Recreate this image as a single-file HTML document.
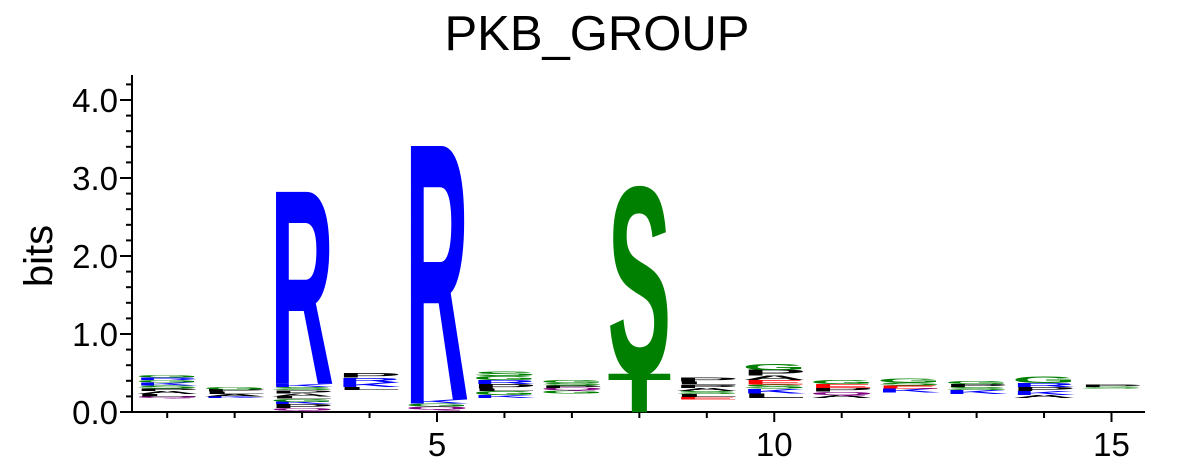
<!DOCTYPE html>
<html><head><meta charset="utf-8"><style>
body{margin:0;background:#fff}
svg{display:block}
text{font-family:"Liberation Sans",sans-serif}
</style></head><body>
<svg id="chart" width="1196" height="471" viewBox="0 0 1196 471">
<text x="597" y="50" font-size="49" text-anchor="middle">PKB_GROUP</text>
<text transform="translate(52,256) rotate(-90)" font-size="40" text-anchor="middle">bits</text>
<g id="axes"></g>
<g id="marks"></g>
</svg>
<script>
const positions = [1,2,3,4,5,6,7,8,9,10,11,12,13,14,15];
// "-" = small residues too thin to render (gap at base of stack)
const stackLetters = [
 ["-","Q","L","A","P","S","K","G","R","G"],
 ["-","K","A","L","P","G"],
 ["-","Q","P","K","G","L","A","P","S","K","R"],
 ["-","L","K","R","P"],
 ["-","Q","G","K","R"],
 ["-","K","G","L","P","R","G","S"],
 ["-","G","Q","P","S","G"],
 ["-","T","S"],
 ["-","E","L","S","A","P","L","P"],
 ["-","L","K","S","E","A","P","G"],
 ["-","A","Q","P","E","G"],
 ["-","K","E","S","G"],
 ["-","K","S","P","G"],
 ["-","A","K","P","R","G"],
 ["-","S","P"]
];
const stackHeights = [
 [0.18,0.02,0.03,0.04,0.03,0.04,0.04,0.03,0.03,0.03],
 [0.18,0.02,0.03,0.03,0.03,0.03],
 [0.02,0.03,0.05,0.03,0.04,0.03,0.04,0.04,0.04,0.04,2.47],
 [0.28,0.04,0.06,0.06,0.06],
 [0.03,0.04,0.04,0.05,3.26],
 [0.18,0.04,0.05,0.03,0.06,0.05,0.05,0.06],
 [0.24,0.04,0.03,0.03,0.03,0.04],
 [0.0,0.49,2.38],
 [0.16,0.03,0.04,0.04,0.04,0.04,0.04,0.05],
 [0.18,0.06,0.06,0.05,0.06,0.06,0.07,0.07],
 [0.18,0.04,0.04,0.05,0.05,0.05],
 [0.25,0.05,0.04,0.04,0.05],
 [0.23,0.05,0.04,0.04,0.04],
 [0.18,0.04,0.05,0.05,0.05,0.08],
 [0.3,0.02,0.03]
];
const yTicks = [0,1,2,3,4];
const yTickLabels = ["0.0","1.0","2.0","3.0","4.0"];
const xTicks = [5,10,15];
const colorOf = {R:"#0000ff",K:"#0000ff",H:"#0000ff",S:"#008000",T:"#008000",G:"#008000",Y:"#008000",C:"#008000",
 D:"#ff0000",E:"#ff0000",Q:"#800080",N:"#800080",A:"#000000",P:"#000000",L:"#000000",V:"#000000",I:"#000000",M:"#000000",F:"#000000",W:"#000000"};
const X0=132,X1=1145,Y0=412,PXB=78;
function xs(p){return 437+(p-5)*67.45;}
function ys(b){return Y0-b*PXB;}
const NS="http://www.w3.org/2000/svg";
function mk(tag,attrs,parent){const e=document.createElementNS(NS,tag);for(const k in attrs)e.setAttribute(k,attrs[k]);parent.appendChild(e);return e;}
const axes=document.getElementById('axes');
const marks=document.getElementById('marks');
let l=mk('line',{x1:X0,y1:Y0+1,x2:X0,y2:75,stroke:'#000','stroke-width':2},axes);


l=mk('line',{x1:X0,y1:Y0,x2:X1,y2:Y0,stroke:'#000','stroke-width':2},axes);


for(let v=0;v<=4.21;v+=0.2){const major=Math.abs(v-Math.round(v))<1e-6;
 const t=mk('line',{x1:major?X0-12:X0-6,x2:X0,y1:ys(v),y2:ys(v),stroke:'#000','stroke-width':2},axes);
 
 }
yTicks.forEach((v,i)=>{const t=mk('text',{x:X0-14,y:ys(v)+12,'font-size':33,'text-anchor':'end'},axes);t.textContent=yTickLabels[i];
 
 });
for(let p=1;p<=15;p++){const major=xTicks.includes(p);
 const t=mk('line',{x1:xs(p),x2:xs(p),y1:Y0,y2:Y0+(major?10:6),stroke:'#000','stroke-width':2},axes);
 
 }
xTicks.forEach(p=>{const t=mk('text',{x:xs(p),y:Y0+44,'font-size':33,'text-anchor':'middle'},axes);t.textContent=String(p);
 
 });
const W=64, CAP=69;
positions.forEach((p,i)=>{let base=0;
 stackLetters[i].forEach((ch,j)=>{const h=stackHeights[i][j];
  const yb=ys(base),yt=ys(base+h),ph=yb-yt;
  if(ch!=="-" && ph>0.3){
   const t=mk('text',{x:0,y:0,'font-size':100,'font-weight':'bold',textLength:100,lengthAdjust:'spacingAndGlyphs',fill:colorOf[ch]||'#000',
    transform:`translate(${xs(p)-W/2},${yb}) scale(${W/100},${ph/CAP})`},marks);
   t.textContent=ch;
   
   
  }
  base+=h;});
});
</script>
</body></html>
